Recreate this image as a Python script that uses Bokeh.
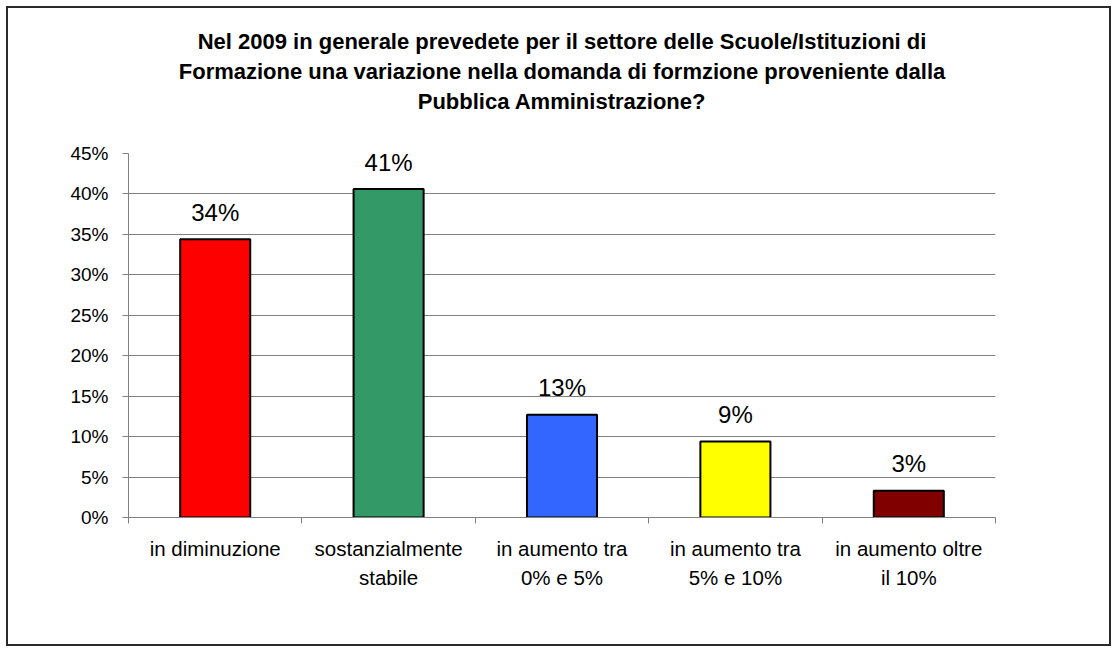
from bokeh.plotting import figure
from bokeh.models import (Range1d, FixedTicker, PrintfTickFormatter, ColumnDataSource,
                          Grid, LinearAxis, Title)
from bokeh.embed import file_html
from bokeh.resources import INLINE
from bokeh.core.properties import value

# ---- data ----
categories = ["in diminuzione", "sostanzialmente\nstabile", "in aumento tra\n0% e 5%",
              "in aumento tra\n5% e 10%", "in aumento oltre\nil 10%"]
values = [34.4, 40.6, 12.7, 9.4, 3.3]
colors = ["#FF0000", "#339966", "#3366FF", "#FFFF00", "#800000"]
y_ticks = [0, 5, 10, 15, 20, 25, 30, 35, 40, 45]
title_lines = ["Nel 2009 in generale prevedete per il settore delle Scuole/Istituzioni di",
               "Formazione una variazione nella domanda di formzione proveniente dalla",
               "Pubblica Amministrazione?"]

FONT = "Liberation Sans"

xs = [i + 0.5 for i in range(len(categories))]
labels = [f"{round(v)}%" for v in values]
src = ColumnDataSource(dict(x=xs, top=values, color=colors, label=labels))

p = figure(width=1105, height=640, output_backend="svg", toolbar_location=None,
           x_range=Range1d(0, len(categories)), y_range=Range1d(0, 45),
           min_border_left=120, min_border_right=118, min_border_top=145, min_border_bottom=131,
           x_axis_type=None, y_axis_type=None, title=None)
p.styles = {"border": "2px solid #2a2a2a", "margin": "6px 0px 0px 6px"}
p.outline_line_color = None
p.background_fill_color = "white"
p.border_fill_color = "white"

# spacer between the title block and the plot area
spacer = Title(text=" ", align="center", text_font=FONT, text_font_size="31.5px", standoff=0)
p.add_layout(spacer, "above")
# title: one centered Title per line, added bottom line first
for line in reversed(title_lines):
    t = Title(text=line, align="center", text_font=FONT, text_font_size="22px",
              text_font_style="bold", text_color="black", standoff=3)
    p.add_layout(t, "above")

# y axis
yax = LinearAxis(ticker=FixedTicker(ticks=y_ticks, minor_ticks=[]),
                 formatter=PrintfTickFormatter(format="%d%%"))
yax.axis_line_color = "#808080"
yax.major_tick_line_color = "#808080"
yax.major_tick_out = 6
yax.major_tick_in = 0
yax.minor_tick_line_color = None
yax.major_label_text_font = FONT
yax.major_label_text_font_size = "19px"
yax.major_label_text_color = "black"
yax.major_label_standoff = 14
p.add_layout(yax, "left")

# x axis
xax = LinearAxis(ticker=FixedTicker(ticks=xs, minor_ticks=list(range(len(categories) + 1))))
xax.major_label_overrides = {x: c for x, c in zip(xs, categories)}
xax.axis_line_color = "#808080"
xax.major_tick_line_color = None
xax.major_tick_out = 0
xax.major_tick_in = 0
xax.minor_tick_line_color = "#808080"
xax.minor_tick_out = 6
xax.minor_tick_in = 0
xax.major_label_text_font = FONT
xax.major_label_text_font_size = "20.5px"
xax.major_label_text_color = "black"
xax.major_label_text_line_height = 1.27
xax.major_label_standoff = 13
p.add_layout(xax, "below")

# grids
g = Grid(dimension=1, ticker=FixedTicker(ticks=y_ticks[1:-1]))
g.grid_line_color = "#808080"
g.grid_line_width = 1
p.add_layout(g)
g2 = Grid(dimension=1, ticker=FixedTicker(ticks=y_ticks[-1:]))
g2.grid_line_color = "#E0E0E0"
g2.grid_line_width = 1
p.add_layout(g2)

# bars
p.vbar(x="x", top="top", width=0.404, bottom=0, source=src, fill_color="color",
       line_color="black", line_width=2)

# data labels
p.text(x="x", y="top", text="label", source=src, text_font=value(FONT),
       text_font_size="24px", text_align="center", text_baseline="alphabetic",
       y_offset=-27, text_color="black")

open("out.html", "w").write(file_html(p, INLINE))
